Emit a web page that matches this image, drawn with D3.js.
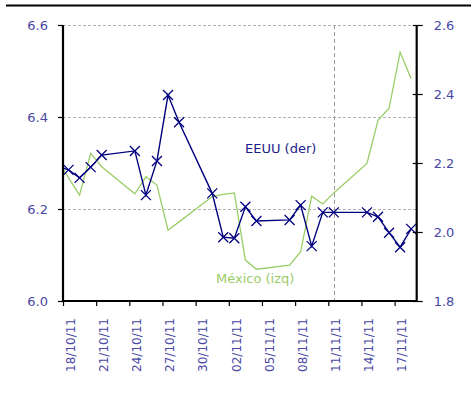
<!DOCTYPE html>
<html>
<head>
<meta charset="utf-8">
<script src="https://cdn.jsdelivr.net/npm/d3@7"></script>
<style>
  body { margin: 0; background: #fff; }
  svg { display: block; }
</style>
</head>
<body>
<script>
// Trading days (the 17/10 value only feeds the segment entering the plot edge)
const dates = [
  "2011-10-17", "2011-10-18", "2011-10-19", "2011-10-20", "2011-10-21",
  "2011-10-24", "2011-10-25", "2011-10-26", "2011-10-27", "2011-10-28",
  "2011-10-31", "2011-11-01", "2011-11-02", "2011-11-03", "2011-11-04",
  "2011-11-07", "2011-11-08", "2011-11-09", "2011-11-10", "2011-11-11",
  "2011-11-14", "2011-11-15", "2011-11-16", "2011-11-17", "2011-11-18"
];
// EEUU (right axis)
const eeuu = [
  2.191, 2.180, 2.157, 2.188, 2.223,
  2.235, 2.107, 2.206, 2.397, 2.318,
  2.112, 1.985, 1.982, 2.073, 2.032,
  2.035, 2.078, 1.959, 2.057, 2.057,
  2.057, 2.044, 1.998, 1.956, 2.009
];
// México (left axis)
const mexico = [
  6.307, 6.268, 6.230, 6.321, 6.292,
  6.233, 6.270, 6.252, 6.154, 6.172,
  6.227, 6.232, 6.235, 6.089, 6.069,
  6.078, 6.107, 6.228, 6.211, 6.235,
  6.299, 6.393, 6.419, 6.541, 6.483
];
const xTickDates = ["2011-10-18", "2011-10-21", "2011-10-24", "2011-10-27", "2011-10-30",
  "2011-11-02", "2011-11-05", "2011-11-08", "2011-11-11", "2011-11-14", "2011-11-17"];
const leftTicks = [6.0, 6.2, 6.4, 6.6];
const rightTicks = [1.8, 2.0, 2.2, 2.4, 2.6];
const gridTicks = [6.2, 6.4, 6.6];
const markerDate = "2011-11-11";

const W = 471, H = 414;
const pLeft = 63, pRight = 416.7, pTop = 25, pBottom = 301;
const parse = d3.timeParse("%Y-%m-%d");
const noon = d => d3.timeHour.offset(parse(d), 12);

const svg = d3.select("body").append("svg").attr("width", W).attr("height", H);

const x = d3.scaleTime().domain([parse("2011-10-18"), parse("2011-11-19")]).range([pLeft, pRight]);
const yL = d3.scaleLinear().domain([6.0, 6.6]).range([pBottom, pTop]);
const yR = d3.scaleLinear().domain([1.8, 2.6]).range([pBottom, pTop]);

const tickColor = "#4848a4";
const font = "DejaVu Sans, Verdana, sans-serif";

// rule above the chart
svg.append("line").attr("x1", 6).attr("x2", 471).attr("y1", 5.5).attr("y2", 5.5)
  .attr("stroke", "#000").attr("stroke-width", 2.2);

// horizontal grid
svg.append("g").selectAll("line").data(gridTicks).join("line")
  .attr("x1", pLeft).attr("x2", pRight)
  .attr("y1", d => Math.round(yL(d)) + 0.5).attr("y2", d => Math.round(yL(d)) + 0.5)
  .attr("stroke", "#b4b4b4").attr("stroke-width", 1).attr("stroke-dasharray", "3,2");

// vertical reference line
svg.append("line")
  .attr("x1", Math.round(x(noon(markerDate))) + 0.5).attr("x2", Math.round(x(noon(markerDate))) + 0.5)
  .attr("y1", pTop).attr("y2", pBottom)
  .attr("stroke", "#9a9a9a").attr("stroke-width", 1).attr("stroke-dasharray", "4,3");

svg.append("defs").append("clipPath").attr("id", "plot")
  .append("rect").attr("x", pLeft).attr("y", 0).attr("width", pRight - pLeft).attr("height", H);

const rows = dates.map((d, i) => ({ t: noon(d), us: eeuu[i], mx: mexico[i] }));
const plot = svg.append("g").attr("clip-path", "url(#plot)");

// México line
plot.append("path").datum(rows)
  .attr("fill", "none").attr("stroke", "#9acd68").attr("stroke-width", 1.3)
  .attr("d", d3.line().x(d => x(d.t)).y(d => yL(d.mx)));

// EEUU line with X markers
plot.append("path").datum(rows)
  .attr("fill", "none").attr("stroke", "#00007f").attr("stroke-width", 1.4)
  .attr("d", d3.line().x(d => x(d.t)).y(d => yR(d.us)));

const s = 5;
plot.append("g").selectAll("path").data(rows).join("path")
  .attr("d", d => {
    const cx = x(d.t), cy = yR(d.us);
    return `M${cx - s},${cy - s}L${cx + s},${cy + s}M${cx - s},${cy + s}L${cx + s},${cy - s}`;
  })
  .attr("stroke", "#00007f").attr("stroke-width", 1.3).attr("fill", "none");

// axes
const axisStroke = g => g.selectAll("path, line").attr("stroke", "#000");

const gx = svg.append("g").attr("transform", `translate(0,${pBottom})`)
  .call(d3.axisBottom(x).tickValues(xTickDates.map(parse)).tickSize(5).tickFormat(""));
gx.select(".domain").attr("stroke-width", 2.2).attr("d", `M${pLeft},0H${pRight}`);
gx.selectAll(".tick line").attr("stroke-width", 1.2);
axisStroke(gx);

svg.append("g").selectAll("text").data(xTickDates).join("text")
  .attr("transform", d => `translate(${x(parse(d)) + 11.8},318) rotate(-90)`)
  .attr("text-anchor", "end")
  .attr("font-family", font).attr("font-size", 12).attr("fill", tickColor)
  .text(d => d3.timeFormat("%d/%m/%y")(parse(d)));

const gl = svg.append("g").attr("transform", `translate(${pLeft},0)`)
  .call(d3.axisLeft(yL).tickValues(leftTicks).tickSize(5).tickFormat(d3.format(".1f")).tickPadding(10));
gl.select(".domain").attr("stroke-width", 2.2).attr("d", `M0,${pTop}V${pBottom}`);
gl.selectAll(".tick line").attr("stroke-width", 1.2);
gl.selectAll("text").attr("font-family", font).attr("font-size", 13).attr("fill", tickColor);
axisStroke(gl);

const gr = svg.append("g").attr("transform", `translate(${pRight},0)`)
  .call(d3.axisRight(yR).tickValues(rightTicks).tickSize(6).tickFormat(d3.format(".1f")).tickPadding(11));
gr.select(".domain").attr("stroke-width", 2.2).attr("d", `M0,${pTop}V${pBottom}`);
gr.selectAll(".tick line").attr("x1", -4).attr("stroke-width", 1.2);
gr.selectAll("text").attr("font-family", font).attr("font-size", 13).attr("fill", tickColor);
axisStroke(gr);

// series labels
svg.append("text").attr("x", 245).attr("y", 153)
  .attr("font-family", font).attr("font-size", 13).attr("fill", "#1c1c8a")
  .text("EEUU (der)");
svg.append("text").attr("x", 216).attr("y", 283)
  .attr("font-family", font).attr("font-size", 13).attr("fill", "#9acd68")
  .text("México (izq)");
</script>
</body>
</html>
